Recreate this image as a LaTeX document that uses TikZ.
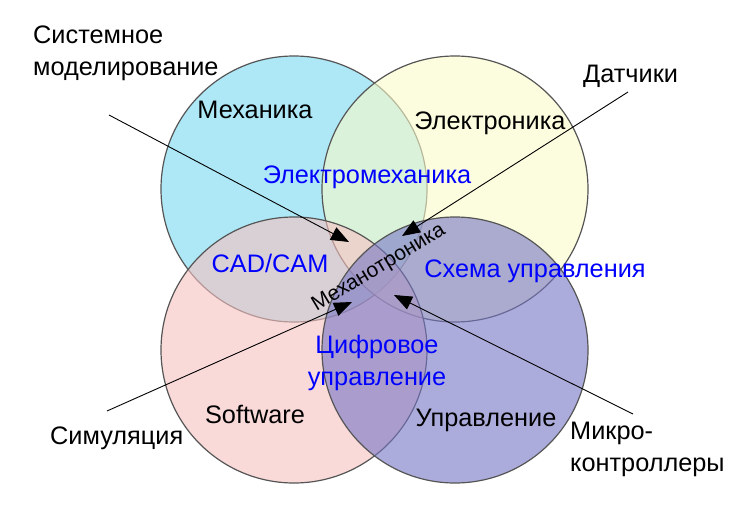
\documentclass[tikz,border=0pt]{standalone}
\usepackage{fontspec}
\setmainfont{Liberation Sans}
\usetikzlibrary{arrows.meta}
\definecolor{cmech}{RGB}{120,217,243}
\definecolor{celec}{RGB}{250,250,200}
\definecolor{csoft}{RGB}{247,193,193}
\definecolor{cctrl}{RGB}{118,118,197}
\definecolor{cedge}{RGB}{85,85,85}
\begin{document}
\begin{tikzpicture}[x=1pt,y=-1pt,
  circ/.style={circle, inner sep=0pt, minimum size=266pt, draw=cedge, line width=1.2pt, fill opacity=0.6},
  lbl/.style={font=\fontsize{25.3}{32}\selectfont, inner sep=0pt, anchor=base},
  blu/.style={lbl, text=blue},
  arr/.style={line width=0.9pt, -{Triangle[length=18pt,width=14pt]}}]
\useasboundingbox (0,0) rectangle (750,516);
\fill[white] (0,0) rectangle (750,516);
% circles
\node[circ, fill=cmech] (mech) at (294,189) {};
\node[circ, fill=celec] (elec) at (455,189) {};
\node[circ, fill=csoft] (soft) at (294,350) {};
\node[circ, fill=cctrl] (ctrl) at (455,350) {};
% circle labels
\node[lbl] (tmech) at (255,119) {Механика};
\node[lbl] (telec) at (490,130) {Электроника};
\node[lbl] (tsoft) at (255,423) {Software};
\node[lbl] (tctrl) at (486,426) {Управление};
% intersections
\node[blu] (tem) at (367,183) {Электромеханика};
\node[blu] (tcad) at (270,272) {CAD/CAM};
\node[blu] (tsch) at (535,277) {Схема управления};
\node[blu, align=center] (tdig) at (377,385) {Цифровое\\управление};
\node[font=\fontsize{21}{25}\selectfont, inner sep=0pt, rotate=31] (tmt) at (379,268) {Механотроника};
% outer labels
\node[lbl, anchor=base west, align=left] (tsys) at (33,76) {Системное\\моделирование};
\node[lbl, anchor=base west] (tdat) at (583,83) {Датчики};
\node[lbl, anchor=base west] (tsim) at (50,444) {Симуляция};
\node[lbl, anchor=base west, align=left] (tmic) at (570,471) {Микро-\\контроллеры};
% arrows
\coordinate (s1) at (109,115); \coordinate (e1) at (349,242);
\coordinate (s2) at (628,92);  \coordinate (e2) at (402,236);
\coordinate (s3) at (107,411); \coordinate (e3) at (352,302);
\coordinate (s4) at (633,414); \coordinate (e4) at (394,295);
\draw[arr] (s1) -- (e1);
\draw[arr] (s2) -- (e2);
\draw[arr] (s3) -- (e3);
\draw[arr] (s4) -- (e4);
\end{tikzpicture}
\end{document}
